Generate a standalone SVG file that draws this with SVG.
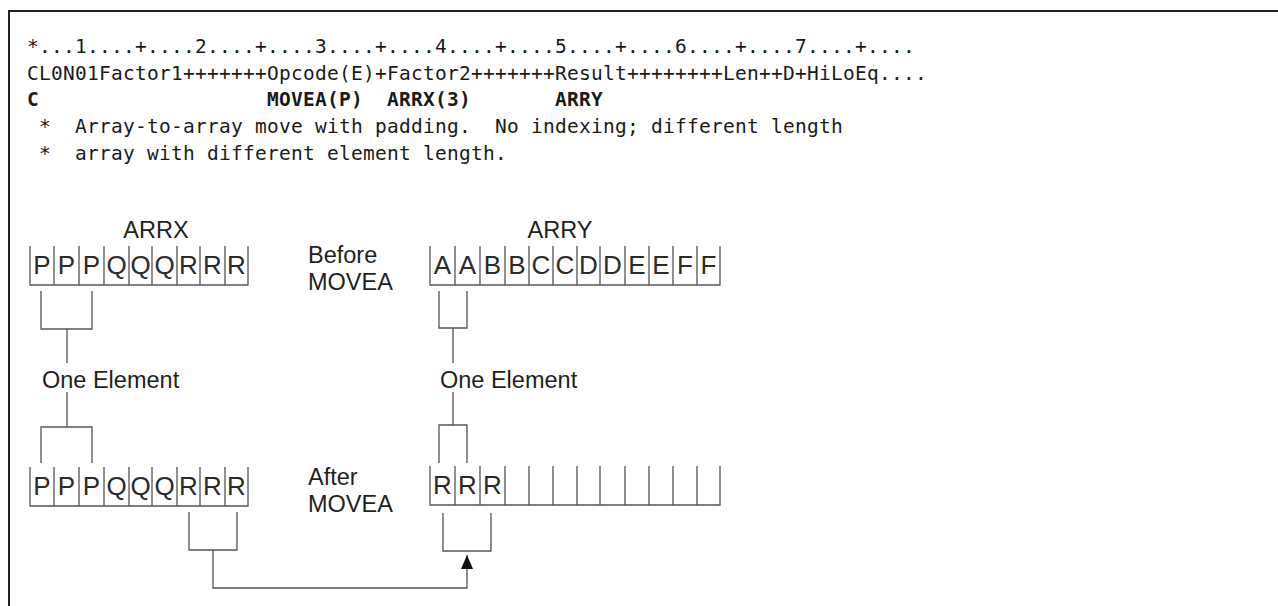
<svg xmlns="http://www.w3.org/2000/svg" width="1278" height="606" viewBox="0 0 1278 606">
<style>
.code{font-family:"DejaVu Sans Mono",monospace;font-size:19.5px;letter-spacing:0.26px;fill:#1a1a1a}
.b{font-weight:bold}
.lbl{font-family:"Liberation Sans",Arial,sans-serif;font-size:23.5px;fill:#231f20}
.cell{font-family:"Liberation Sans",Arial,sans-serif;font-size:26px;fill:#2a2a2a;text-anchor:middle}
.ln{fill:none;stroke:#555;stroke-width:1.3}
.frame{fill:none;stroke:#222;stroke-width:2}
</style>
<defs>
<marker id="arr" markerWidth="14" markerHeight="12" refX="14" refY="6" orient="auto" markerUnits="userSpaceOnUse">
<path d="M0,0 L14,6 L0,12 Z" fill="#111"/>
</marker>
</defs>
<rect width="1278" height="606" fill="#fff"/>
<path class="frame" d="M9,606 V11 H1278"/>

<g id="code">
<text class="code" x="27" y="53">*...1....+....2....+....3....+....4....+....5....+....6....+....7....+....</text>
<text class="code" x="27" y="80">CL0N01Factor1+++++++Opcode(E)+Factor2+++++++Result++++++++Len++D+HiLoEq....</text>
<text class="code b" x="27" y="106">C</text>
<text class="code b" x="267" y="106">MOVEA(P)</text>
<text class="code b" x="387" y="106">ARRX(3)</text>
<text class="code b" x="555" y="106">ARRY</text>
<text class="code" x="39" y="133" xml:space="preserve">*  Array-to-array move with padding.  No indexing; different length</text>
<text class="code" x="39" y="160" xml:space="preserve">*  array with different element length.</text>
</g>

<g id="labels">
<text class="lbl" x="156" y="238" text-anchor="middle">ARRX</text>
<text class="lbl" x="560" y="238" text-anchor="middle">ARRY</text>
<text class="lbl" x="308" y="263">Before</text>
<text class="lbl" x="308" y="290">MOVEA</text>
<text class="lbl" x="308" y="485">After</text>
<text class="lbl" x="308" y="512">MOVEA</text>
</g>

<g id="arrx-before">
<path class="ln" d="M30,246 V285 H248 V246 M54,246 V285 M79,246 V285 M104,246 V285 M129,246 V285 M152,246 V285 M177,246 V285 M200,246 V285 M225,246 V285"/>
<text class="cell" x="42" y="274">P</text>
<text class="cell" x="66.5" y="274">P</text>
<text class="cell" x="91.5" y="274">P</text>
<text class="cell" x="116.5" y="274">Q</text>
<text class="cell" x="140.5" y="274">Q</text>
<text class="cell" x="164.5" y="274">Q</text>
<text class="cell" x="188.5" y="274">R</text>
<text class="cell" x="212.5" y="274">R</text>
<text class="cell" x="236.5" y="274">R</text>
</g>

<g id="arry-before">
<path class="ln" d="M430,246 V285 H720 V246 M455,246 V285 M480,246 V285 M505,246 V285 M529,246 V285 M553,246 V285 M577,246 V285 M600,246 V285 M625,246 V285 M649,246 V285 M673,246 V285 M697,246 V285"/>
<text class="cell" x="442.5" y="274">A</text>
<text class="cell" x="467.5" y="274">A</text>
<text class="cell" x="492.5" y="274">B</text>
<text class="cell" x="517" y="274">B</text>
<text class="cell" x="541" y="274">C</text>
<text class="cell" x="565" y="274">C</text>
<text class="cell" x="588.5" y="274">D</text>
<text class="cell" x="612.5" y="274">D</text>
<text class="cell" x="637" y="274">E</text>
<text class="cell" x="661" y="274">E</text>
<text class="cell" x="685" y="274">F</text>
<text class="cell" x="708.5" y="274">F</text>
</g>

<g id="arrx-after">
<path class="ln" d="M30,467 V506 H248 V467 M54,467 V506 M79,467 V506 M104,467 V506 M129,467 V506 M152,467 V506 M177,467 V506 M200,467 V506 M225,467 V506"/>
<text class="cell" x="42" y="495">P</text>
<text class="cell" x="66.5" y="495">P</text>
<text class="cell" x="91.5" y="495">P</text>
<text class="cell" x="116.5" y="495">Q</text>
<text class="cell" x="140.5" y="495">Q</text>
<text class="cell" x="164.5" y="495">Q</text>
<text class="cell" x="188.5" y="495">R</text>
<text class="cell" x="212.5" y="495">R</text>
<text class="cell" x="236.5" y="495">R</text>
</g>

<g id="arry-after">
<path class="ln" d="M430,466 V505 H720 V466 M455,466 V505 M480,466 V505 M505,466 V505 M529,466 V505 M553,466 V505 M577,466 V505 M600,466 V505 M625,466 V505 M649,466 V505 M673,466 V505 M697,466 V505"/>
<text class="cell" x="442.5" y="494">R</text>
<text class="cell" x="467.5" y="494">R</text>
<text class="cell" x="492.5" y="494">R</text>
</g>

<g id="one-element-x">
<text class="lbl" x="42" y="388">One Element</text>
</g>
<g id="one-element-y">
<text class="lbl" x="440" y="388">One Element</text>
</g>

<g id="connectors">
<path class="ln" d="M41,291 V329 H92 V291 M67,329 V363"/>
<path class="ln" d="M67,392 V427 M41,463 V427 H92 V463"/>
<path class="ln" d="M439,291 V328 H467 V291 M453,328 V363"/>
<path class="ln" d="M453,392 V425 M439,463 V425 H467 V463"/>
<path class="ln" d="M189,512 V550 H237 V512"/>
<path class="ln" d="M443,513 V551 H491 V513"/>
<path class="ln" d="M213,550 V588 H467 V555" marker-end="url(#arr)"/>
</g>
</svg>
